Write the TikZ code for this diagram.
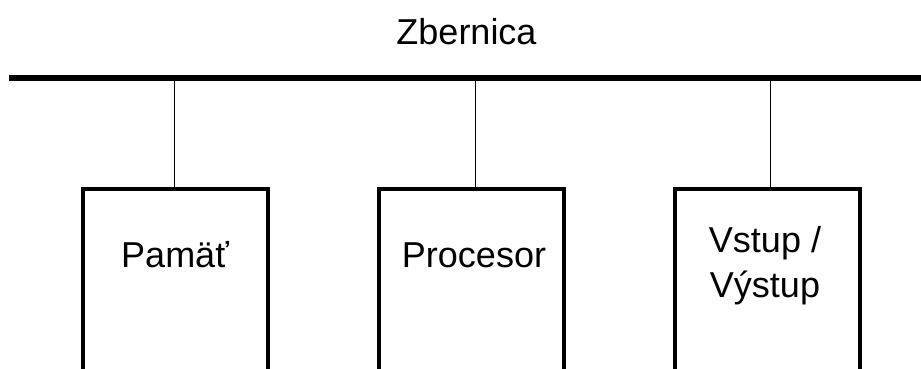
\documentclass[tikz,border=0pt]{standalone}
\usepackage{fontspec}
\setmainfont{Liberation Sans}
\usetikzlibrary{positioning}

\tikzset{
 unit/.style={minimum width=185pt, minimum height=230pt, inner sep=0pt, anchor=north},
 frame/.style={line width=4pt},
 tap/.style={line width=1pt},
 txt/.style={font=\fontsize{36}{45}\selectfont, align=center, anchor=base, inner sep=0pt}
}

\begin{document}
\begin{tikzpicture}[x=1pt,y=-1pt]
 \useasboundingbox (0,0) rectangle (921,369);
 \clip (0,0) rectangle (921,369);
 % the bus
 \coordinate (busL) at (9,78);
 \coordinate (busR) at (930,78);
 \draw[line width=5.5pt] (busL) -- (busR);
 \node[txt] (busname) at (466.5,45) {Zbernica};
 % the units, open at the bottom
 \foreach \n/\x in {mem/175.5,cpu/471.5,io/767.5}
  \node[unit] (\n) at (\x,189) {};
 \foreach \n/\x in {mem/174,cpu/475,io/770}
  {
   \coordinate (tap\n) at (\x,78);
   \draw[tap] (tap\n) -- (tap\n |- \n.north);
  }
 \foreach \n in {mem,cpu,io}
  \draw[frame] (\n.south west) -- (\n.north west) -- (\n.north east) -- (\n.south east);
 \node[txt] (memname) at (175,267) {Pamäť};
 \node[txt] (cpuname) at (474,267) {Procesor};
 % base of a two-line node sits on its last line
 \node[txt] (ioname) at (765,297) {Vstup /\\Výstup};
\end{tikzpicture}
\end{document}
